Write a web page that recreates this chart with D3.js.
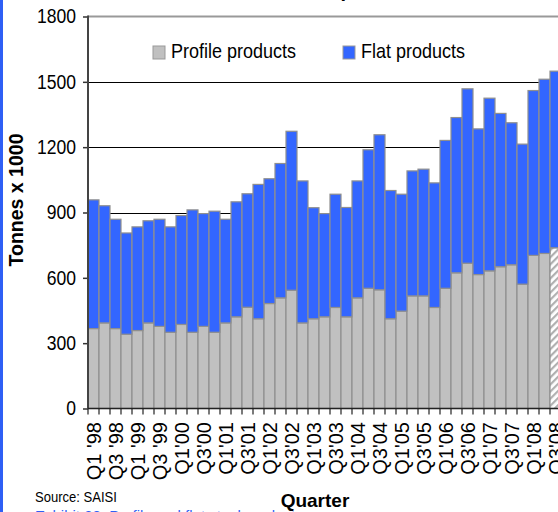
<!DOCTYPE html>
<html><head><meta charset="utf-8">
<script src="https://cdn.jsdelivr.net/npm/d3@7"></script>
<style>html,body{margin:0;padding:0;background:#fff;overflow:hidden}</style>
</head><body><svg id="c" width="558" height="512"></svg>
<script>
const quarters = [
 "Q1 '98","Q2 '98","Q3 '98","Q4 '98","Q1 '99","Q2 '99","Q3 '99","Q4 '99",
 "Q1'00","Q2'00","Q3'00","Q4'00","Q1'01","Q2'01","Q3'01","Q4'01",
 "Q1'02","Q2'02","Q3'02","Q4'02","Q1'03","Q2'03","Q3'03","Q4'03",
 "Q1'04","Q2'04","Q3'04","Q4'04","Q1'05","Q2'05","Q3'05","Q4'05",
 "Q1'06","Q2'06","Q3'06","Q4'06","Q1'07","Q2'07","Q3'07","Q4'07",
 "Q1'08","Q2'08","Q3'08"];
const labelledQuarters = quarters.filter(q => q.startsWith("Q1") || q.startsWith("Q3"));
const profile = [367,393,367,341,358,393,377,350,386,350,377,350,393,421,465,412,
 482,508,543,393,412,421,464,421,508,552,545,412,447,517,517,464,552,623,667,615,
 632,651,660,571,703,712,738];
const flat = [591,538,502,465,476,469,492,484,500,562,518,556,476,528,521,617,
 573,617,730,652,510,474,520,502,537,636,712,589,537,574,582,572,679,713,801,669,
 793,704,652,643,757,800,811];
const estimatedQuarters = ["Q3'08"];
const yTicks = [0,300,600,900,1200,1500,1800];
const seriesNames = ["Profile products","Flat products"];
const seriesColors = ["#c0c0c0","#3366ff"];

const svg = d3.select("#c");
const FONT = "'Liberation Sans', Arial, sans-serif";
const plotLeft = 88, bandW = 11, plotTop = 16.5, plotBottom = 408.5;

svg.append("rect").attr("x",0).attr("y",0).attr("width",3).attr("height",512).attr("fill","#2f5ff5");

const defs = svg.append("defs");
const pat = defs.append("pattern").attr("id","hatch").attr("patternUnits","userSpaceOnUse")
  .attr("width",5).attr("height",5).attr("patternTransform","rotate(45)");
pat.append("rect").attr("width",5).attr("height",5).attr("fill","#fff");
pat.append("rect").attr("x",0).attr("y",0).attr("width",2.2).attr("height",5).attr("fill","#b0b0b0");

const x = d3.scaleBand().domain(quarters).range([plotLeft, plotLeft + quarters.length*bandW]).padding(0);
const y = d3.scaleLinear().domain([0,1800]).range([plotBottom, plotTop]);

// gridlines
svg.append("g").selectAll("line").data(yTicks.filter(v => v>0 && v<1800)).join("line")
  .attr("x1",plotLeft).attr("x2",558).attr("y1",d=>Math.round(y(d))+0.5).attr("y2",d=>Math.round(y(d))+0.5)
  .attr("stroke","#000").attr("stroke-width",1);
svg.append("line").attr("x1",plotLeft).attr("x2",558).attr("y1",y(1800)).attr("y2",y(1800))
  .attr("stroke","#999").attr("stroke-width",2);

// stacked bars
const rows = quarters.map((q,i)=>({q, profile:profile[i], flat:flat[i]}));
const stack = d3.stack().keys(["profile","flat"])(rows);
svg.append("g").selectAll("g").data(stack).join("g")
  .attr("fill",(d,i)=>seriesColors[i])
  .selectAll("rect").data((d)=>d.map(v=>({v, key:d.key}))).join("rect")
  .attr("x",d=>x(d.v.data.q))
  .attr("width",x.bandwidth())
  .attr("y",d=>y(d.v[1]))
  .attr("height",d=>y(d.v[0])-y(d.v[1]))
  .attr("fill",d=> (d.key==="profile" && estimatedQuarters.includes(d.v.data.q)) ? "url(#hatch)" : null)
  .attr("stroke","#8f8f8f").attr("stroke-width",1.2);

// axes
const ax = svg.append("g").attr("transform",`translate(${plotLeft},0)`)
  .call(d3.axisLeft(y).tickValues(yTicks).tickSize(5).tickPadding(0).tickFormat(d3.format("d")));
ax.select(".domain").remove();
ax.selectAll(".tick line").attr("stroke","#333").attr("stroke-width",1.5);
ax.selectAll(".tick text").remove();
svg.append("g").selectAll("text").data(yTicks).join("text")
  .attr("transform",d=>`translate(76,${y(d)}) scale(0.9,1)`)
  .attr("dy","0.35em").attr("text-anchor","end")
  .attr("font-family",FONT).attr("font-size",19.5).attr("fill","#000")
  .text(d=>d);
svg.append("line").attr("x1",plotLeft).attr("x2",plotLeft).attr("y1",plotTop-1).attr("y2",plotBottom)
  .attr("stroke","#444").attr("stroke-width",2);

// x axis
svg.append("line").attr("x1",plotLeft).attr("x2",558).attr("y1",plotBottom).attr("y2",plotBottom)
  .attr("stroke","#222").attr("stroke-width",1.5);
const bounds = quarters.map(q=>x(q)).concat([x(quarters[quarters.length-1])+x.bandwidth()]);
svg.append("g").selectAll("line").data(bounds).join("line")
  .attr("x1",d=>d).attr("x2",d=>d).attr("y1",plotBottom).attr("y2",plotBottom+6)
  .attr("stroke","#222").attr("stroke-width",1.2);
svg.append("g").selectAll("text").data(labelledQuarters).join("text")
  .attr("transform",d=>`translate(${x(d)+x.bandwidth()/2},422) rotate(-90)`)
  .attr("dy","0.35em").attr("text-anchor","end")
  .attr("font-family",FONT).attr("font-size",20).attr("fill","#000")
  .text(d=>d);

// axis titles
svg.append("text").attr("transform","translate(23,200) rotate(-90)")
  .attr("text-anchor","middle").attr("font-family",FONT).attr("font-weight","bold")
  .attr("font-size",19.5).text("Tonnes x 1000");
svg.append("text").attr("x",315).attr("y",507)
  .attr("text-anchor","middle").attr("font-family",FONT).attr("font-weight","bold")
  .attr("font-size",19).text("Quarter");

// legend
const lg = svg.append("g");
[[153,171],[343,361]].forEach(([sx,tx],i)=>{
  lg.append("rect").attr("x",sx).attr("y",46).attr("width",12).attr("height",13)
    .attr("fill",seriesColors[i]).attr("stroke","#999").attr("stroke-width",1);
  lg.append("text").attr("transform",`translate(${tx},58) scale(0.9,1)`)
    .attr("font-family",FONT).attr("font-size",20).text(seriesNames[i]);
});

// source & caption
svg.append("text").attr("transform","translate(35,501.5) scale(0.9,1)")
  .attr("font-family",FONT).attr("font-size",14.5).text("Source: SAISI");
svg.append("text").attr("x",35).attr("y",521)
  .attr("font-family",FONT).attr("font-size",15).attr("fill","#2f5ff5")
  .text("Exhibit 38: Profile and flat steel products");
svg.append("text").attr("x",300).attr("y",-3).attr("text-anchor","middle")
  .attr("font-family",FONT).attr("font-weight","bold").attr("font-size",20)
  .text("Steel consumption");
</script></body></html>
